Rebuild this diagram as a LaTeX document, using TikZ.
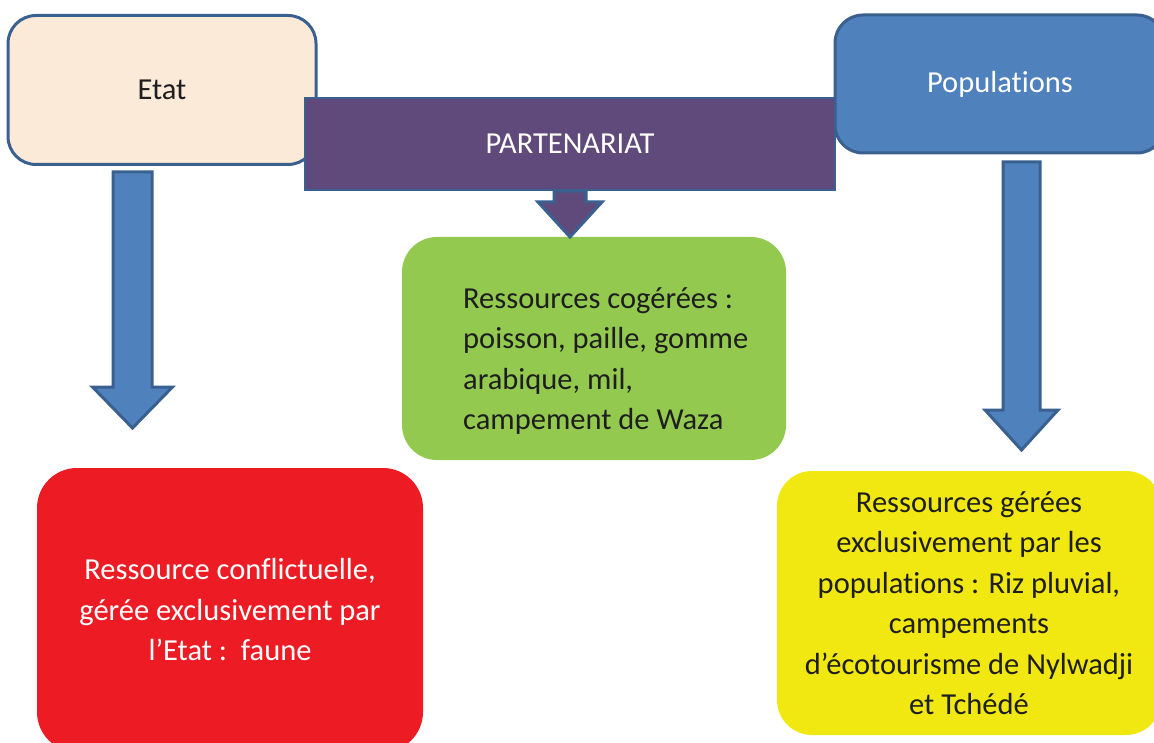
\documentclass[tikz,border=0pt]{standalone}
\usepackage{fontspec}
\setmainfont{Carlito}[RawFeature={-liga;-clig;-calt;-dlig}]
\usetikzlibrary{calc}

\definecolor{peach}{HTML}{FCEAD8}
\definecolor{edge}{HTML}{3A6090}
\definecolor{plum}{HTML}{5F4A7B}
\definecolor{sky}{HTML}{4F81BD}
\definecolor{leaf}{HTML}{93C94F}
\definecolor{alarm}{HTML}{ED1C24}
\definecolor{lemon}{HTML}{F1E811}
\definecolor{ink}{HTML}{1E1E1E}

% block arrow pointing down: style, top, tip, half shaft, half head, head length
\newcommand{\blockarrow}[6]{%
  \draw[#1] let \p1=(#2), \p2=(#3) in
    (\x1-#4pt,\y1) -- (\x1+#4pt,\y1) -- (\x1+#4pt,\y2+#6pt) -- (\x1+#5pt,\y2+#6pt)
    -- (\p2) -- (\x1-#5pt,\y2+#6pt) -- (\x1-#4pt,\y2+#6pt) -- cycle;}

\begin{document}
\begin{tikzpicture}[x=1pt, y=-1pt,
  txt/.style={font=\fontsize{30.5}{40.5}\selectfont},
  box/.style={rounded corners=#1, inner sep=0pt, align=center, txt},
  box/.default=28pt,
  bluearrow/.style={draw=edge, line width=3pt, fill=sky, line join=miter},
  plumarrow/.style={draw=edge, line width=3pt, fill=plum, line join=miter}]
\useasboundingbox (0,0) rectangle (1154,743);
\clip (0,0) rectangle (1154,743);

\node[box, draw=edge, line width=3pt, fill=peach, text=ink,
      minimum width=308pt, minimum height=149pt] (etat) at (162,90) {Etat};
\node[box, draw=edge, line width=3pt, fill=sky, text=white,
      minimum width=330pt, minimum height=138pt] (pop) at (1000,84) {Populations};

\node[txt, draw=edge, line width=2.5pt, fill=plum, text=white,
      minimum width=530pt, minimum height=92pt] (part) at (570,144) {PARTENARIAT};

\node[box=35pt, fill=leaf, minimum width=384pt, minimum height=223pt] (cogere) at (594,348.5) {};
\node[txt, anchor=west, align=left, inner sep=0pt, text=ink] (cogeretxt) at (463,361)
  {Ressources cogérées :\\poisson, paille, gomme\\arabique, mil,\\campement de Waza};

\node[box=40pt, fill=alarm, text=white,
      minimum width=386pt, minimum height=284pt] (faune) at (230,610)
  {Ressource conflictuelle,\\gérée exclusivement par\\l’Etat :\ \ faune};
\node[box=35pt, fill=lemon, text=ink,
      minimum width=384pt, minimum height=264pt] (riz) at (969,603)
  {Ressources gérées\\exclusivement par les\\populations : Riz pluvial,\\campements\\d’écotourisme de Nylwadji\\et Tchédé};

\coordinate (etat top) at (132.5,172);
\coordinate (etat tip) at (132.5,428);
\coordinate (pop top) at (1021.5,162);
\coordinate (pop tip) at (1021.5,450);
\coordinate (part tip) at (570,237);

\blockarrow{plumarrow}{part.south}{part tip}{16}{32}{35}
\blockarrow{bluearrow}{etat top}{etat tip}{19.5}{40}{41}
\blockarrow{bluearrow}{pop top}{pop tip}{18.5}{36.5}{40}
\end{tikzpicture}
\end{document}
